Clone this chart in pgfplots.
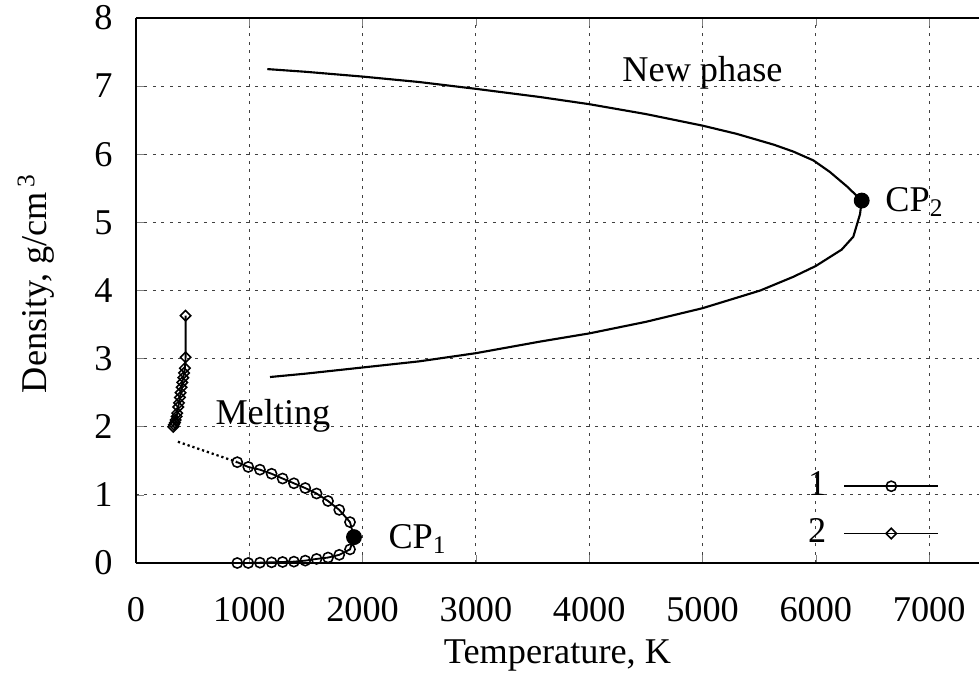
\documentclass[12pt,border=0pt]{standalone}
\usepackage{fontspec}
\setmainfont{Liberation Serif}
\usepackage{pgfplots}
\pgfplotsset{compat=1.18}
\begin{document}
\fontsize{12.8}{15}\selectfont
\begin{tikzpicture}
\begin{axis}[
  at={(0,0)}, anchor=south west,
  scale only axis, width=297.6pt, height=192.4pt,
  xmin=0, xmax=7440, ymin=0, ymax=8,
  axis x line*=box, axis y line*=left,
  tick align=inside, major tick length=3pt,
  xtick={0,1000,2000,3000,4000,5000,6000,7000},
  ytick={0,1,2,3,4,5,6,7,8},
  /pgf/number format/assume math mode=true,
  /pgf/number format/1000 sep={},
  xticklabel style={anchor=center, yshift=-16.6pt},
  yticklabel style={anchor=east, xshift=-3.8pt},
  grid=major,
  major grid style={black!75, dash pattern=on 1pt off 2pt, line width=0.4pt},
  xlabel={Temperature, K},
  ylabel={Density, g/cm\textsuperscript{\,3}},
  xlabel style={at={(axis description cs:0.5,-0.169)}, anchor=center},
  ylabel style={at={(axis description cs:-0.1186,0.513)}, anchor=center},
  legend plot pos=right,
  legend cell align=right,
  legend style={draw=none, fill=none, at={(axis cs:7094,0.78)}, anchor=east,
    inner sep=0pt, row sep=2.3pt, column sep=4pt},
  legend image code/.code={\draw[mark repeat=2,mark phase=2] plot coordinates {(0pt,0pt) (16.6pt,0pt) (33.2pt,0pt)};},
]
% series 1
\addplot[black, line width=0.65pt, mark=o, mark size=1.8pt, mark options={solid, line width=0.55pt}] coordinates {
(894,1.48) (991,1.41) (1094,1.37) (1197,1.31) (1294,1.24) (1394,1.17) (1494,1.10) (1594,1.02) (1695,0.91) (1794,0.78) (1889,0.60)
(1924,0.38)
(1889,0.20) (1794,0.12) (1695,0.08) (1594,0.06) (1494,0.035) (1394,0.02) (1294,0.015) (1197,0.01) (1094,0.005) (991,0.0) (894,0.0)
};
\addlegendentry{1}
% series 2
\addplot[black, line width=0.65pt, mark=square, mark size=1.3pt, mark options={rotate=45, solid, line width=0.55pt}] coordinates {
(438,3.63) (438,3.02) (432,2.86) (424,2.79) (418,2.72) (409,2.65) (403,2.58) (394,2.50) (388,2.43) (380,2.35) (373,2.29) (364,2.20) (359,2.15) (350,2.10) (344,2.06) (335,2.03) (329,2.00)
};
\addlegendentry{2}
% new phase curve
\addplot[black, line width=0.75pt, forget plot] coordinates {
(1159,7.25) (1500,7.21) (2000,7.14) (2500,7.06) (3000,6.96) (3566,6.84) (4000,6.735) (4500,6.59) (5000,6.42) (5300,6.30) (5630,6.14) (5800,6.04) (5978,5.91) (6124,5.74) (6273,5.53) (6405,5.32)
(6390,5.12) (6331,4.79) (6228,4.60) (6000,4.36) (5800,4.20) (5510,4.00) (5000,3.74) (4500,3.54) (4000,3.37) (3566,3.25) (3000,3.08) (2500,2.96) (2000,2.87) (1500,2.78) (1183,2.73)
};
% melting dotted line
\addplot[black, densely dotted, line width=0.8pt, forget plot] coordinates {(370,1.78) (894,1.48)};
% critical points
\addplot[only marks, mark=*, mark size=2.6pt, black, forget plot] coordinates {(1924,0.38) (6405,5.32)};
\node[anchor=base] at (axis cs:5000,7.07) {New phase};
\node[anchor=base west, inner sep=0pt] at (axis cs:697,2.04) {Melting};
\node[anchor=base west, inner sep=0pt] at (axis cs:6609,5.16) {CP\textsubscript{2}};
\node[anchor=base west, inner sep=0pt] at (axis cs:2224,0.22) {CP\textsubscript{1}};
\end{axis}
\pgfresetboundingbox
\path[use as bounding box] (-48.0pt,-47.3pt) rectangle (297.6pt,198.75pt);
\end{tikzpicture}
\end{document}
